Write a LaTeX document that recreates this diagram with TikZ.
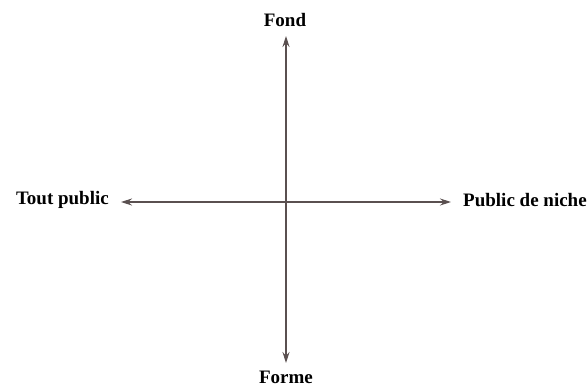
\documentclass[tikz,border=0pt]{standalone}
\usepackage{fontspec}
\setmainfont{Liberation Serif}
\usetikzlibrary{arrows.meta}
\definecolor{axiscol}{HTML}{5A5050}
\begin{document}
\begin{tikzpicture}[x=1pt,y=-1pt,
  lbl/.style={font=\fontsize{19}{21}\selectfont\bfseries, inner sep=0pt},
  axis/.style={draw=axiscol, line width=1.1pt, {Stealth[length=11pt,width=7pt]}-{Stealth[length=11pt,width=7pt]}}]
\useasboundingbox (0,0) rectangle (587,386);
\node[lbl] (fond) at (285,20) {Fond};
\node[lbl] (forme) at (286,377) {Forme};
\node[lbl, anchor=east] (tout) at (109,200) {Tout public};
\node[lbl, anchor=west] (niche) at (463,200) {Public de niche};
\coordinate (top) at (286,36);
\coordinate (bot) at (286,363);
\coordinate (left) at (121,202);
\coordinate (right) at (451,202);
\draw[axis] (top) -- (bot);
\draw[axis] (left) -- (right);
\end{tikzpicture}
\end{document}
